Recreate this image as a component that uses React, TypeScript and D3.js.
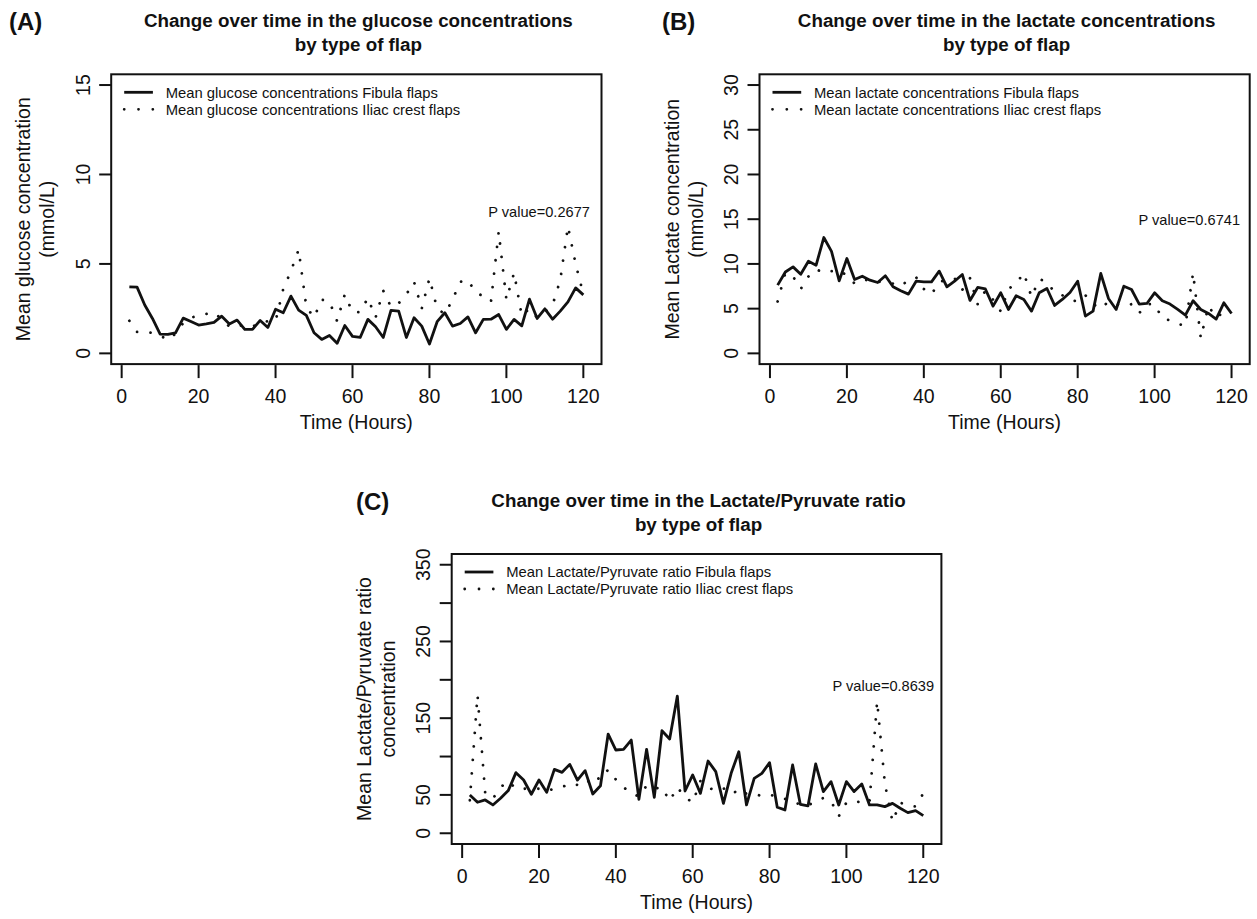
import React from "react";
import * as d3 from "d3";

const hours = [2, 4, 6, 8, 10, 12, 14, 16, 18, 20, 22, 24, 26, 28, 30, 32, 34, 36, 38, 40, 42, 44, 46, 48, 50, 52, 54, 56, 58, 60, 62, 64, 66, 68, 70, 72, 74, 76, 78, 80, 82, 84, 86, 88, 90, 92, 94, 96, 98, 100, 102, 104, 106, 108, 110, 112, 114, 116, 118, 120];

const glucoseFibula = [3.72, 3.7, 2.7, 1.95, 1.08, 1.06, 1.15, 1.97, 1.78, 1.58, 1.65, 1.73, 2.08, 1.64, 1.86, 1.34, 1.34, 1.84, 1.45, 2.47, 2.27, 3.2, 2.42, 2.12, 1.15, 0.78, 1.0, 0.56, 1.56, 0.95, 0.89, 1.9, 1.49, 0.89, 2.4, 2.36, 0.89, 1.99, 1.52, 0.52, 1.77, 2.27, 1.52, 1.67, 2.04, 1.15, 1.9, 1.91, 2.17, 1.34, 1.9, 1.54, 3.03, 1.95, 2.49, 1.91, 2.36, 2.88, 3.66, 3.27];
const glucoseIliac = [1.82, 1.2, 1.2, 1.15, 1.0, 0.75, 1.1, 1.7, 2.0, 2.1, 2.2, 2.3, 1.9, 1.5, 1.6, 1.5, 1.5, 1.7, 1.8, 1.8, 3.6, 4.6, 5.8, 2.6, 2.0, 3.0, 2.9, 1.8, 3.3, 2.3, 2.3, 3.1, 2.0, 3.5, 2.6, 2.8, 3.3, 4.0, 2.5, 4.2, 2.5, 2.2, 3.0, 4.0, 4.1, 3.4, 3.2, 2.9, 6.8, 3.0, 4.5, 2.1, 2.5, 2.0, 2.3, 2.7, 4.1, 7.1, 5.0, 3.3];

const lactateFibula = [7.63, 9.1, 9.67, 8.85, 10.3, 9.86, 12.95, 11.4, 8.1, 10.6, 8.26, 8.63, 8.18, 7.92, 8.67, 7.44, 7.0, 6.62, 8.07, 8.0, 8.0, 9.19, 7.44, 8.07, 8.82, 5.92, 7.37, 7.2, 5.28, 6.77, 4.91, 6.44, 6.03, 4.72, 6.77, 7.25, 5.36, 6.03, 6.81, 8.07, 4.17, 4.72, 8.93, 6.14, 4.91, 7.51, 7.14, 5.51, 5.58, 6.77, 5.88, 5.51, 4.91, 4.28, 5.88, 4.91, 4.46, 3.83, 5.65, 4.46];
const lactateIliac = [5.8, 9.0, 8.6, 7.2, 8.6, 9.4, 9.0, 9.2, 9.3, 8.7, 7.8, 8.2, 8.2, 8.0, 8.0, 7.8, 7.5, 8.2, 8.5, 7.2, 6.6, 8.0, 8.2, 8.4, 7.1, 8.4, 5.5, 7.0, 6.0, 4.7, 7.2, 7.8, 9.0, 6.3, 8.3, 8.0, 6.8, 6.5, 6.0, 5.8, 6.5, 5.5, 5.0, 5.8, 5.5, 5.3, 5.5, 4.5, 5.5, 5.5, 3.9, 3.7, 3.3, 3.1, 9.0, 1.7, 5.3, 4.0, 4.6, 4.6];

const ratioFibula = [49.9, 40.4, 43.4, 36.9, 45.6, 55.6, 79, 69.4, 50.8, 69.4, 53.4, 83.3, 79.4, 89.8, 69.4, 81.6, 51.2, 62, 129.3, 108.5, 109.4, 121.5, 44.3, 109.4, 46.9, 133.7, 122.8, 178.8, 55.1, 76, 52, 94.2, 80.3, 39, 78.1, 106.3, 36.9, 71.6, 78.1, 92, 33.9, 30.4, 89, 37.8, 35.6, 90.3, 54.3, 67.3, 36.9, 67.3, 54.3, 64.2, 36.9, 36.9, 34.7, 39, 32.6, 26.9, 29.5, 23];
const ratioIliac = [43, 180, 52, 45, 60, 68, 58, 58, 58, 58, 55, 58, 60, 65, 63, 62, 75, 70, 83, 70, 60, 52, 48, 62, 58, 60, 42, 60, 47, 40, 68, 60, 55, 58, 60, 48, 52, 52, 48, 50, 48, 45, 40, 38, 36, 42, 46, 42, 22, 40, 42, 40, 40, 172, 65, 15, 40, 36, 35, 52];

const xTicks = [0, 20, 40, 60, 80, 100, 120];
const glucoseTicks = [0, 5, 10, 15];
const lactateTicks = [0, 5, 10, 15, 20, 25, 30];
const ratioTicks = [0, 50, 100, 150, 200, 250, 300, 350];
const ratioTickLabels = [0, 50, 150, 250, 350];

const FONT = "'Liberation Sans', Arial, Helvetica, sans-serif";
const INK = "#111";

type PanelProps = {
  letter: string;
  title: string;
  left: number;
  right: number;
  top: number;
  bottom: number;
  yMax: number;
  yTicks: number[];
  yLabelled: number[];
  ylab: string[];
  fib: number[];
  iliac: number[];
  legend: string[];
  pText: string;
  pX: number;
  pY: number;
  letterX: number;
};

function Panel(p: PanelProps) {
  const x = d3.scaleLinear().domain([-2.72, 124.72]).range([p.left, p.right]);
  const y = d3
    .scaleLinear()
    .domain([-0.04 * p.yMax, 1.04 * p.yMax])
    .range([p.bottom, p.top]);
  const line = d3
    .line<number>()
    .x((_, i) => x(hours[i]))
    .y((d) => y(d));
  const cx = (p.left + p.right) / 2;
  const cy = (p.top + p.bottom) / 2;
  return (
    <g fontFamily={FONT} fill={INK}>
      <text x={p.letterX} y={p.top - 44} fontSize={24} fontWeight="bold">
        {p.letter}
      </text>
      <text x={cx + 2} y={p.top - 47} fontSize={18.8} fontWeight="bold" textAnchor="middle">
        {p.title}
      </text>
      <text x={cx + 2} y={p.top - 23} fontSize={18.8} fontWeight="bold" textAnchor="middle">
        by type of flap
      </text>
      <rect
        x={p.left}
        y={p.top}
        width={p.right - p.left}
        height={p.bottom - p.top}
        fill="none"
        stroke={INK}
        strokeWidth={2}
      />
      {xTicks.map((t) => (
        <g key={"x" + t}>
          <line x1={x(t)} x2={x(t)} y1={p.bottom + 1} y2={p.bottom + 14} stroke={INK} strokeWidth={2} />
          <text x={x(t)} y={p.bottom + 38.7} fontSize={19.5} textAnchor="middle">
            {t}
          </text>
        </g>
      ))}
      <text x={cx} y={p.bottom + 65} fontSize={19.5} textAnchor="middle">
        Time (Hours)
      </text>
      {p.yTicks.map((t) => (
        <g key={"y" + t}>
          <line x1={p.left - 12} x2={p.left} y1={y(t)} y2={y(t)} stroke={INK} strokeWidth={2} />
          {p.yLabelled.includes(t) && (
            <text
              transform={`translate(${p.left - 21.5},${y(t)}) rotate(-90)`}
              fontSize={19.5}
              textAnchor="middle"
            >
              {t}
            </text>
          )}
        </g>
      ))}
      {p.ylab.map((s, i) => (
        <text
          key={s}
          transform={`translate(${p.left - 81 + i * 24},${cy}) rotate(-90)`}
          fontSize={19.5}
          textAnchor="middle"
        >
          {s}
        </text>
      ))}
      <path d={line(p.fib) || ""} fill="none" stroke={INK} strokeWidth={2.8} strokeLinejoin="round" />
      <path
        d={line(p.iliac) || ""}
        fill="none"
        stroke={INK}
        strokeWidth={2.8}
        strokeLinecap="round"
        strokeDasharray="0.01 13.5"
      />
      <line x1={p.left + 13} x2={p.left + 41.7} y1={p.top + 18} y2={p.top + 18} stroke={INK} strokeWidth={2.8} />
      <line
        x1={p.left + 13}
        x2={p.left + 42}
        y1={p.top + 35}
        y2={p.top + 35}
        stroke={INK}
        strokeWidth={2.8}
        strokeLinecap="round"
        strokeDasharray="0.01 14.3"
      />
      <text x={p.left + 54.5} y={p.top + 23.3} fontSize={14.8}>
        {p.legend[0]}
      </text>
      <text x={p.left + 54.5} y={p.top + 40.3} fontSize={14.8}>
        {p.legend[1]}
      </text>
      <text x={x(p.pX)} y={y(p.pY) + 5.3} fontSize={14.6} textAnchor="middle">
        {p.pText}
      </text>
    </g>
  );
}

export default function App() {
  return (
    <svg
      width={1257}
      height={919}
      viewBox="0 0 1257 919"
      style={{ position: "absolute", left: 0, top: 0, background: "#fff" }}
    >
      <rect width={1257} height={919} fill="#fff" />
      <Panel
        letter="(A)"
        letterX={9}
        title="Change over time in the glucose concentrations"
        left={111.2}
        right={601.5}
        top={74.3}
        bottom={364.1}
        yMax={15}
        yTicks={glucoseTicks}
        yLabelled={glucoseTicks}
        ylab={["Mean glucose concentration", "(mmol/L)"]}
        fib={glucoseFibula}
        iliac={glucoseIliac}
        legend={["Mean glucose concentrations Fibula flaps", "Mean glucose concentrations Iliac crest flaps"]}
        pText="P value=0.2677"
        pX={108.5}
        pY={7.9}
      />
      <Panel
        letter="(B)"
        letterX={662}
        title="Change over time in the lactate concentrations"
        left={759.5}
        right={1249.7}
        top={74.3}
        bottom={364.1}
        yMax={30}
        yTicks={lactateTicks}
        yLabelled={lactateTicks}
        ylab={["Mean Lactate concentration", "(mmol/L)"]}
        fib={lactateFibula}
        iliac={lactateIliac}
        legend={["Mean lactate concentrations Fibula flaps", "Mean lactate concentrations Iliac crest flaps"]}
        pText="P value=0.6741"
        pX={109}
        pY={14.9}
      />
      <Panel
        letter="(C)"
        letterX={356}
        title="Change over time in the Lactate/Pyruvate ratio"
        left={451.7}
        right={941.4}
        top={554}
        bottom={844}
        yMax={350}
        yTicks={ratioTicks}
        yLabelled={ratioTickLabels}
        ylab={["Mean Lactate/Pyruvate ratio", "concentration"]}
        fib={ratioFibula}
        iliac={ratioIliac}
        legend={["Mean Lactate/Pyruvate ratio Fibula flaps", "Mean Lactate/Pyruvate ratio Iliac crest flaps"]}
        pText="P value=0.8639"
        pX={109.6}
        pY={192}
      />
    </svg>
  );
}
